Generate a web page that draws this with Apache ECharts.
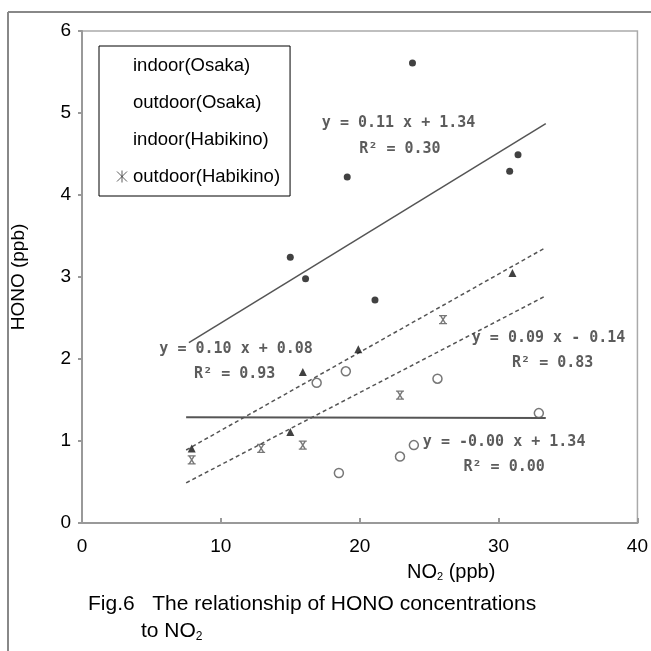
<!DOCTYPE html>
<html>
<head>
<meta charset="utf-8">
<script src="https://cdn.jsdelivr.net/npm/echarts@6/dist/echarts.min.js"></script>
<style>
html, body { margin: 0; padding: 0; background: #fff; }
#chart { width: 651px; height: 651px; }
</style>
</head>
<body>
<div id="chart"></div>
<script>
// measured points [NO2, HONO]
var indoorOsaka = [[15.0, 3.24], [16.1, 2.98], [19.1, 4.22], [21.1, 2.72], [23.8, 5.61], [30.8, 4.29], [31.4, 4.49]];
var outdoorOsaka = [[16.9, 1.71], [18.5, 0.61], [19.0, 1.85], [22.9, 0.81], [23.9, 0.95], [25.6, 1.76], [32.9, 1.34]];
var indoorHabikino = [[7.9, 0.91], [15.0, 1.11], [15.9, 1.84], [19.9, 2.12], [31.0, 3.05]];
var outdoorHabikino = [[7.9, 0.77], [12.9, 0.91], [15.9, 0.95], [22.9, 1.56], [26.0, 2.48]];

// regression line end points
var fitIndoorOsaka = [[7.7, 2.20], [33.4, 4.87]];
var fitOutdoorOsaka = [[7.5, 1.29], [33.4, 1.28]];
var fitIndoorHabikino = [[7.5, 0.89], [33.4, 3.36]];
var fitOutdoorHabikino = [[7.5, 0.49], [33.4, 2.77]];

// equation labels and where they sit (data coords)
var eqTexts = ['y = 0.11 x + 1.34', 'R² = 0.30',
               'y = 0.10 x + 0.08', 'R² = 0.93',
               'y = 0.09 x - 0.14', 'R² = 0.83',
               'y = -0.00 x + 1.34', 'R² = 0.00'];
var eqAnchors = [[22.8, 4.88], [22.9, 4.56],
                 [11.1, 2.12], [11.0, 1.82],
                 [33.6, 2.26], [33.9, 1.95],
                 [30.4, 0.99], [30.4, 0.68]];

var xTicks = [0, 10, 20, 30, 40];
var yTicks = [0, 1, 2, 3, 4, 5, 6];

var seriesNames = ['indoor(Osaka)', 'outdoor(Osaka)', 'indoor(Habikino)', 'outdoor(Habikino)'];

var font = 'Liberation Sans, Arial, sans-serif';
var xSymbol = 'path://M0 0L8 0M0 9L8 9M1.5 0L6.5 9M6.5 0L1.5 9';
var asterisk = 'path://M0 0L10 10M10 0L0 10M5 -1L5 11';

var chart = echarts.init(document.getElementById('chart'));

function fitLine(name, data, dashed, w) {
    return {
        name: name,
        type: 'line',
        data: data,
        symbol: 'none',
        silent: true,
        z: 1,
        lineStyle: { color: '#555', width: w, type: dashed ? [4, 3] : 'solid' }
    };
}

var option = {
    backgroundColor: '#fff',
    animation: false,
    textStyle: { fontFamily: font },
    grid: {
        left: 82, right: 9, top: 31, bottom: 128,
        show: true, borderColor: '#aaa', borderWidth: 1.5
    },
    legend: {
        orient: 'vertical',
        left: 99, top: 46,
        padding: [10, 10, 10, 17],
        itemGap: 18,
        itemWidth: 12,
        itemHeight: 12,
        borderColor: '#000',
        borderWidth: 1,
        backgroundColor: '#fff',
        selectedMode: false,
        textStyle: { fontSize: 18.5, color: '#000', fontFamily: font, lineHeight: 18 },
        data: [
            { name: seriesNames[0], icon: 'none' },
            { name: seriesNames[1], icon: 'none' },
            { name: seriesNames[2], icon: 'none' },
            { name: seriesNames[3], icon: asterisk,
              itemStyle: { color: 'transparent', borderColor: '#333', borderWidth: 1 } }
        ]
    },
    xAxis: {
        type: 'value',
        min: xTicks[0], max: xTicks[xTicks.length - 1], interval: 10,
        axisLine: { lineStyle: { color: '#999', width: 2 } },
        axisTick: { inside: true, length: 5, lineStyle: { color: '#999', width: 2 } },
        axisLabel: { fontSize: 19, color: '#000', margin: 14, fontFamily: font },
        splitLine: { show: false }
    },
    yAxis: {
        type: 'value',
        min: yTicks[0], max: yTicks[yTicks.length - 1], interval: 1,
        name: 'HONO (ppb)',
        nameLocation: 'middle',
        nameGap: 54,
        nameTextStyle: { fontSize: 19, color: '#000', fontFamily: font },
        axisLine: { show: true, lineStyle: { color: '#999', width: 2 } },
        axisTick: { show: true, length: 4, lineStyle: { color: '#999', width: 2 } },
        axisLabel: { fontSize: 19, color: '#000', margin: 11, fontFamily: font },
        splitLine: { show: false }
    },
    series: [
        fitLine('fit1', fitIndoorOsaka, false, 1.5),
        fitLine('fit2', fitOutdoorOsaka, false, 2),
        fitLine('fit3', fitIndoorHabikino, true, 1.5),
        fitLine('fit4', fitOutdoorHabikino, true, 1.5),
        {
            name: seriesNames[0], type: 'scatter', data: indoorOsaka,
            symbol: 'circle', symbolSize: 7, z: 3,
            itemStyle: { color: '#111' }
        },
        {
            name: seriesNames[1], type: 'scatter', data: outdoorOsaka,
            symbol: 'circle', symbolSize: 9, z: 3,
            itemStyle: { color: '#fff', borderColor: '#555', borderWidth: 1.5 }
        },
        {
            name: seriesNames[2], type: 'scatter', data: indoorHabikino,
            symbol: 'triangle', symbolSize: 8, z: 3,
            itemStyle: { color: '#111' }
        },
        {
            name: seriesNames[3], type: 'scatter', data: outdoorHabikino,
            symbol: xSymbol, symbolSize: [8, 8], z: 3,
            itemStyle: { color: 'transparent', borderColor: '#555', borderWidth: 1.4 }
        },
        {
            name: 'equations', type: 'scatter', silent: true, z: 4,
            symbolSize: 1,
            itemStyle: { color: 'transparent' },
            data: eqAnchors.map(function (p, i) { return { value: p, name: eqTexts[i] }; }),
            label: {
                show: true, position: 'inside', formatter: '{b}',
                fontFamily: 'DejaVu Sans Mono, Liberation Mono, monospace',
                fontWeight: 'bold', fontSize: 15, color: '#333'
            }
        }
    ],
    graphic: [
        { type: 'line', silent: true, shape: { x1: 8, y1: 12, x2: 651, y2: 12 },
          style: { stroke: '#888', lineWidth: 2 } },
        { type: 'line', silent: true, shape: { x1: 8, y1: 12, x2: 8, y2: 651 },
          style: { stroke: '#888', lineWidth: 2 } },
        { type: 'text', left: 407, top: 562, silent: true,
          style: { text: 'NO{s|2} (ppb)', font: '20px ' + font, fill: '#000',
                   rich: { s: { fontSize: 11, padding: [9, 0, 0, 0], fontFamily: font } } } },
        { type: 'text', left: 88, top: 594, silent: true,
          style: { text: 'Fig.6   The relationship of HONO concentrations', font: '21px ' + font, fill: '#000' } },
        { type: 'text', left: 141, top: 621, silent: true,
          style: { text: 'to NO{s|2}', font: '21px ' + font, fill: '#000',
                   rich: { s: { fontSize: 12, padding: [10, 0, 0, 0], fontFamily: font } } } }
    ]
};

chart.setOption(option);
</script>
</body>
</html>
